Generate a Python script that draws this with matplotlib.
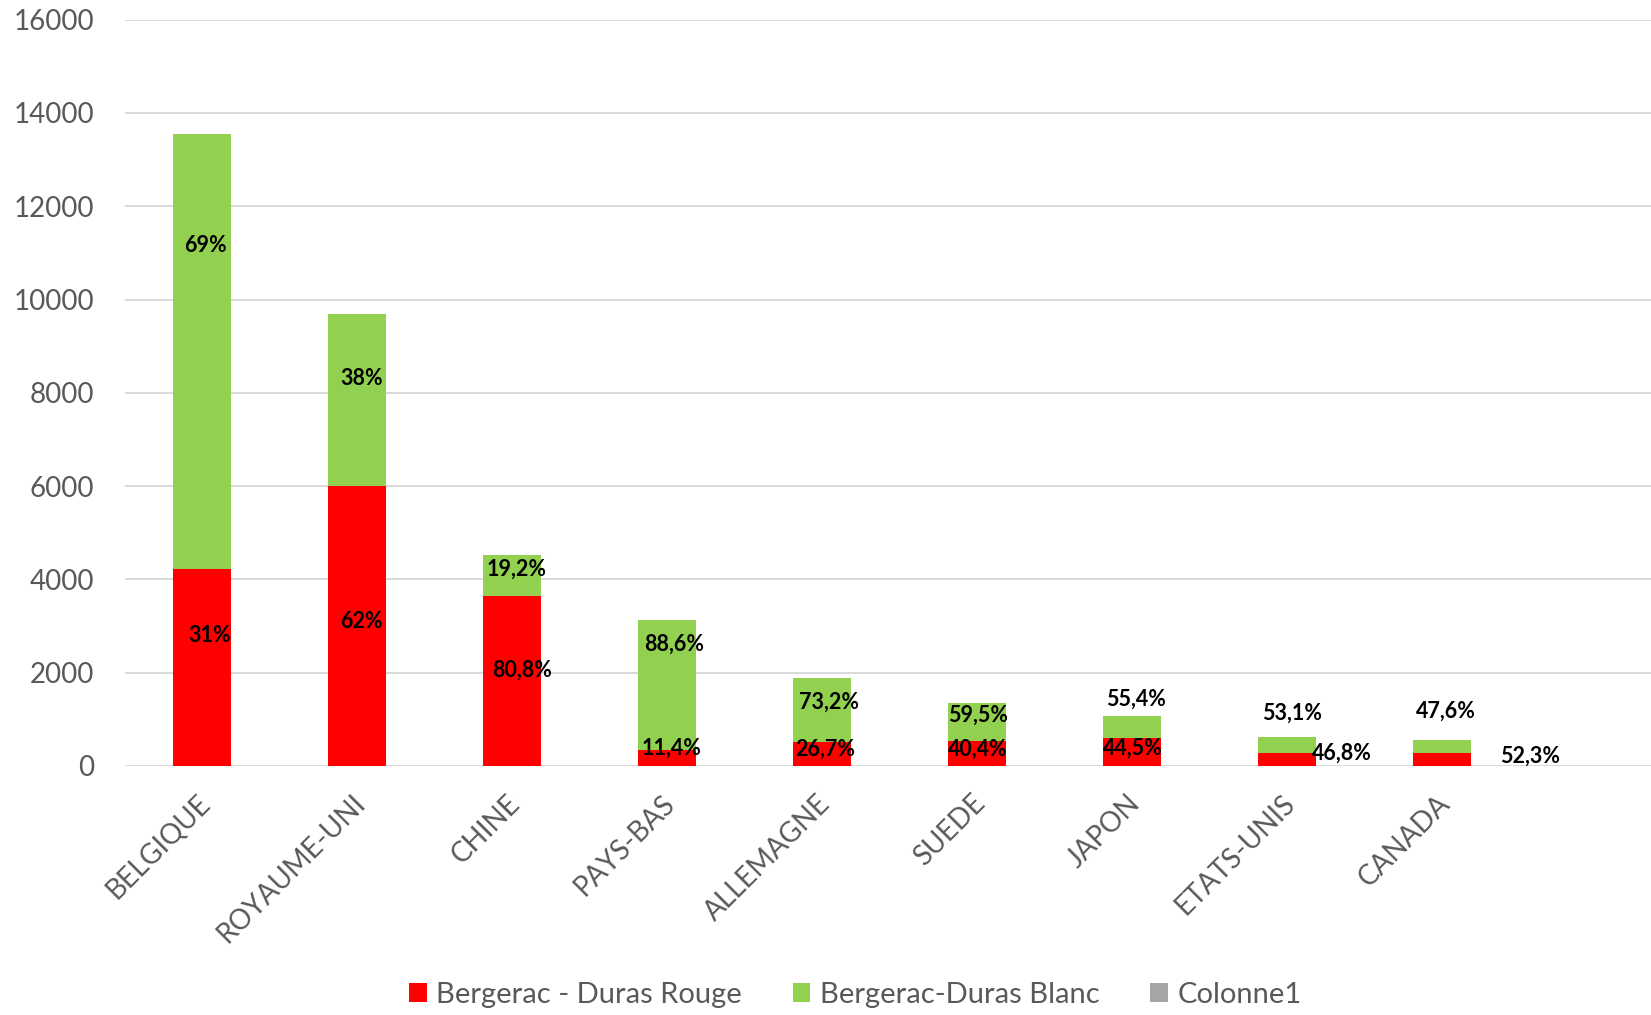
import matplotlib
matplotlib.use("Agg")
import matplotlib.pyplot as plt
import matplotlib.transforms as mtransforms
import numpy as np

# ---- data ----
categories = ["BELGIQUE", "ROYAUME-UNI", "CHINE", "PAYS-BAS", "ALLEMAGNE",
              "SUEDE", "JAPON", "ETATS-UNIS", "CANADA"]
rouge = [4217, 6000, 3650, 345, 515, 542, 594, 285, 285]
blanc = [9340, 3684, 865, 2785, 1378, 802, 478, 337, 279]
colonne1 = [0, 0, 0, 0, 0, 0, 0, 0, 0]

labels_rouge = ["31%", "62%", "80,8%", "11,4%", "26,7%", "40,4%", "44,5%", "46,8%", "52,3%"]
labels_blanc = ["69%", "38%", "19,2%", "88,6%", "73,2%", "59,5%", "55,4%", "53,1%", "47,6%"]

series_names = ["Bergerac - Duras Rouge", "Bergerac-Duras Blanc", "Colonne1"]
yticks = [0, 2000, 4000, 6000, 8000, 10000, 12000, 14000, 16000]

# ---- label layout (positions of data labels: x offset, y value) ----
rouge_lab_dx = [0.05, 0.03, 0.065, 0.03, 0.02, 0.006, 0.006, 0.355, 0.57]
rouge_lab_y = [2808, 3095, 2058, 386, 364, 364, 386, 279, 214]
blanc_lab_dx = [0.02, 0.03, 0.03, 0.045, 0.045, 0.006, 0.026, 0.03, 0.026]
blanc_lab_y = [11168, 8317, 4223, 2615, 1372, 1093, 1436, 1136, 1179]

plt.rcParams['font.family'] = ['Lato', 'DejaVu Sans']

W, H = 1651, 1015
fig = plt.figure(figsize=(W / 100, H / 100), dpi=100)
ax = fig.add_axes([124.5 / W, 1 - 766 / H, 1 - 124.5 / W, (766 - 19.6) / H])

x = np.arange(len(categories))
bw = 0.374
red = "#FF0000"
green = "#92D050"
gray = "#A5A5A5"

b1 = ax.bar(x, rouge, bw, color=red, linewidth=0, label=series_names[0], zorder=3)
b2 = ax.bar(x, blanc, bw, bottom=rouge, color=green, linewidth=0, label=series_names[1], zorder=3)
bottom3 = np.array(rouge) + np.array(blanc)
b3 = ax.bar(x, colonne1, bw, bottom=bottom3, color=gray, linewidth=0, label=series_names[2], zorder=3)

for i in range(len(categories)):
    ax.text(x[i] + rouge_lab_dx[i], rouge_lab_y[i], labels_rouge[i], ha="center", va="center",
            fontsize=15.5, fontweight="bold", color="black", zorder=5)
    ax.text(x[i] + blanc_lab_dx[i], blanc_lab_y[i], labels_blanc[i], ha="center", va="center",
            fontsize=15.5, fontweight="bold", color="black", zorder=5)

ax.set_xlim(-0.5, (W - 124.5) / 155 - 0.5)
ax.set_ylim(0, 16000)
ax.set_yticks(yticks)
ax.set_yticklabels([str(v) for v in yticks])
ax.yaxis.grid(True, color="#D9D9D9", linewidth=1.4, zorder=0)
ax.set_axisbelow(True)
for s in ax.spines.values():
    s.set_visible(False)
ax.tick_params(axis="both", length=0, labelsize=20, labelcolor="#595959")
ax.tick_params(axis="y", pad=22)
ax.set_xticks(x)
ax.set_xticklabels(categories, rotation=45, ha="right", va="center", rotation_mode="anchor")
ax.tick_params(axis="x", pad=24)
offset = mtransforms.ScaledTranslation(4 / 100, 0, fig.dpi_scale_trans)
for lab in ax.get_xticklabels():
    lab.set_transform(lab.get_transform() + offset)

fig.legend(handles=[b1, b2, b3], labels=series_names, loc="center",
           bbox_to_anchor=(0.518, 0.02), ncol=3, frameon=False, fontsize=21,
           handlelength=0.6, handleheight=0.6, handletextpad=0.32, columnspacing=1.75,
           labelcolor="#595959")

fig.savefig("out.png", dpi=100)
